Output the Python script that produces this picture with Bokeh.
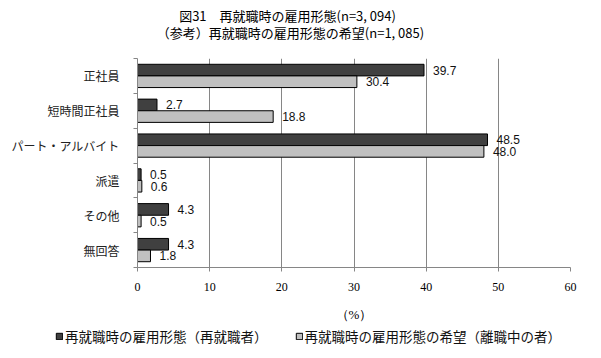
from bokeh.plotting import figure
from bokeh.layouts import column
from bokeh.models import (Range1d, FixedTicker, Label, Legend, LegendItem,
                          ColumnDataSource)
from bokeh.core.properties import value
from bokeh.embed import file_html
from bokeh.resources import INLINE

# ---- data ----
categories = ["正社員", "短時間正社員", "パート・アルバイト", "派遣", "その他", "無回答"]
reemployed = [39.7, 2.7, 48.5, 0.5, 4.3, 4.3]
hope = [30.4, 18.8, 48.0, 0.6, 0.5, 1.8]
x_ticks = [0, 10, 20, 30, 40, 50, 60]
series_names = ["再就職時の雇用形態（再就職者）", "再就職時の雇用形態の希望（離職中の者）"]
title_lines = ["図31　再就職時の雇用形態(n=3, 094)", "（参考）再就職時の雇用形態の希望(n=1, 085)"]

DARK, LIGHT = "#404040", "#c0c0c0"
W = 585

n = len(categories)
centers = [n - 0.5 - i for i in range(n)]
bar_h = 0.334
y_dark = [c + bar_h / 2 for c in centers]
y_light = [c - bar_h / 2 for c in centers]

src_dark = ColumnDataSource(dict(y=y_dark, v=reemployed, t=[f"{v:.1f}" for v in reemployed]))
src_light = ColumnDataSource(dict(y=y_light, v=hope, t=[f"{v:.1f}" for v in hope]))


def blank(height, y_range):
    f = figure(width=W, height=height, output_backend="svg", toolbar_location=None,
               x_range=Range1d(0, W), y_range=y_range,
               x_axis_type=None, y_axis_type=None,
               min_border=0, min_border_left=0, min_border_right=0,
               min_border_top=0, min_border_bottom=0)
    f.frame_align = False
    f.outline_line_color = None
    f.grid.visible = False
    f.background_fill_color = "white"
    f.border_fill_color = "white"
    return f


# ---- title panel ----
t_fig = blank(50, Range1d(0, 50))
for txt, xx, yy in zip(title_lines, [287, 290], [35, 18]):
    t_fig.add_layout(Label(x=xx, y=yy, text=txt, text_align="center", text_baseline="middle",
                           text_font="Noto Sans CJK JP", text_font_size="13px",
                           text_color="black"))

# ---- main chart ----
p = figure(width=W, height=274, output_backend="svg", toolbar_location=None,
           x_range=Range1d(0, 60), y_range=Range1d(0, n),
           min_border_left=137, min_border_right=15, min_border_top=8, min_border_bottom=56)
p.frame_align = False
p.outline_line_color = None
p.background_fill_color = "white"
p.border_fill_color = "white"

p.hbar(y="y", right="v", left=0, height=bar_h, source=src_dark,
       fill_color=DARK, line_color="black", line_width=1)
p.hbar(y="y", right="v", left=0, height=bar_h, source=src_light,
       fill_color=LIGHT, line_color="black", line_width=1)

for src in (src_dark, src_light):
    p.text(x="v", y="y", text="t", source=src, x_offset=9,
           text_baseline="middle", text_align="left",
           text_font=value("Liberation Sans"), text_font_size="12px",
           text_color="#111111")

xa = p.xaxis[0]
xa.ticker = FixedTicker(ticks=x_ticks, minor_ticks=[])
xa.axis_line_color = "#868686"
xa.major_tick_line_color = "#868686"
xa.major_tick_out = 4
xa.major_tick_in = 0
xa.minor_tick_line_color = None
xa.major_label_text_font = "Liberation Serif"
xa.major_label_text_font_size = "12px"
xa.major_label_text_color = "black"
xa.major_label_standoff = 11
xa.axis_label = "（%）"
xa.axis_label_text_font = "Liberation Serif"
xa.axis_label_text_font_size = "13px"
xa.axis_label_text_font_style = "normal"
xa.axis_label_text_color = "black"
xa.axis_label_standoff = 13

p.xgrid.ticker = FixedTicker(ticks=x_ticks)
p.xgrid.grid_line_color = "#868686"
p.ygrid.grid_line_color = None

ya = p.yaxis[0]
ya.ticker = FixedTicker(ticks=centers, minor_ticks=list(range(n + 1)))
ya.major_label_overrides = {c: cat for c, cat in zip(centers, categories)}
ya.axis_line_color = "#868686"
ya.major_tick_line_color = None
ya.major_tick_out = 0
ya.major_tick_in = 0
ya.minor_tick_line_color = "#868686"
ya.minor_tick_out = 4
ya.minor_tick_in = 0
ya.major_label_text_font = "Noto Sans CJK JP"
ya.major_label_text_font_size = "12px"
ya.major_label_text_color = "#222222"
ya.major_label_standoff = 14

# ---- legend panel (swatches come from the same sources, out of this panel's view) ----
l_fig = blank(26, Range1d(100, 126))
lr_dark = l_fig.hbar(y="y", right="v", left=0, height=bar_h, source=src_dark,
                     fill_color=DARK, line_color="black")
lr_light = l_fig.hbar(y="y", right="v", left=0, height=bar_h, source=src_light,
                      fill_color=LIGHT, line_color="black")
legend = Legend(items=[LegendItem(label=series_names[0], renderers=[lr_dark]),
                       LegendItem(label=series_names[1], renderers=[lr_light])],
                orientation="horizontal", location=(55, 4),
                glyph_width=8, glyph_height=8, label_standoff=2, spacing=27,
                padding=0, margin=0, border_line_color=None,
                background_fill_alpha=0, label_height=12,
                label_text_font="Noto Sans CJK JP", label_text_font_size="13.5px",
                label_text_color="#111111")
l_fig.add_layout(legend, "center")

layout = column(t_fig, p, l_fig, spacing=0)
open("out.html", "w").write(file_html(layout, INLINE))
